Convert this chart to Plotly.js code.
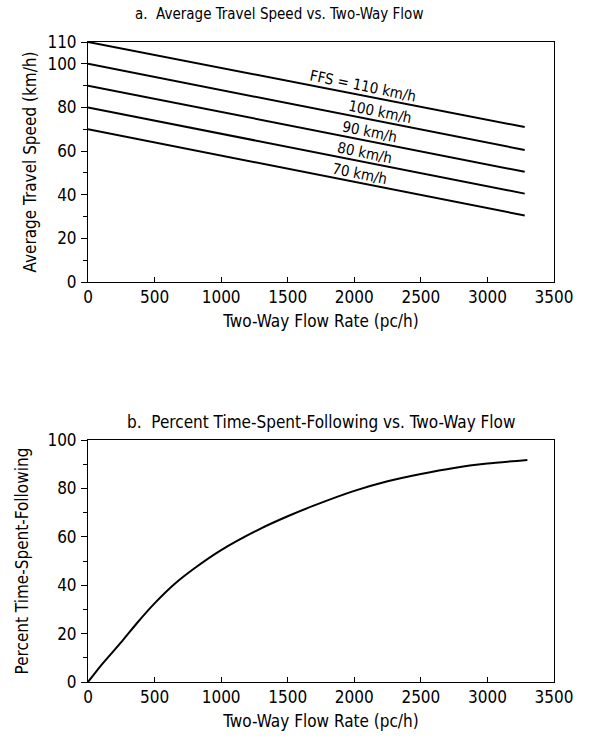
<!DOCTYPE html>
<html>
<head>
<meta charset="utf-8">
<script src="https://cdn.plot.ly/plotly-3.0.1.min.js"></script>
<style>html,body{margin:0;padding:0;background:#fff;}#chart{width:592px;height:749px;}</style>
</head>
<body>
<div id="chart"></div>
<script>
// ---- Data ----
const ffsLabels = ["FFS = 110 km/h", "100 km/h", "90 km/h", "80 km/h", "70 km/h"];
const speedFlow = [0, 3280];
const speed110 = [110, 71];
const speed100 = [100, 60.5];
const speed90 = [90, 50.5];
const speed80 = [80, 40.5];
const speed70 = [70, 30.5];

const ptsfFlow = [0, 100, 250, 370, 500, 650, 800, 1000, 1300, 1500, 1700, 2000, 2250, 2500, 2750, 3000, 3300];
const ptsfValues = [0, 7, 16.5, 24.5, 32.5, 40.5, 47, 54.5, 63.5, 68.5, 73, 79, 83, 86, 88.5, 90.3, 91.8];

const xTicks = [0, 500, 1000, 1500, 2000, 2500, 3000, 3500];
const yTicksA = [0, 20, 40, 60, 80, 100, 110];
const yTicksB = [0, 20, 40, 60, 80, 100];

const titleA = "a.  Average Travel Speed vs. Two-Way Flow";
const titleB = "b.  Percent Time-Spent-Following vs. Two-Way Flow";
const xTitle = "Two-Way Flow Rate (pc/h)";
const yTitleA = "Average Travel Speed (km/h)";
const yTitleB = "Percent Time-Spent-Following";

// ---- Styling ----
const FONT = "'Liberation Sans Narrow', 'DejaVu Sans Condensed', 'Arial Narrow', sans-serif";
const speedSeries = [speed110, speed100, speed90, speed80, speed70];
const labelX = [2050, 2180, 2105, 2065, 2030];

const traces = speedSeries.map((s, i) => ({
  x: speedFlow, y: s, xaxis: 'x', yaxis: 'y', mode: 'lines',
  line: {color: '#000', width: 2}, hoverinfo: 'skip', showlegend: false
}));
traces.push({
  x: ptsfFlow, y: ptsfValues, xaxis: 'x2', yaxis: 'y2', mode: 'lines',
  line: {color: '#000', width: 2, shape: 'spline', smoothing: 0.6}, hoverinfo: 'skip', showlegend: false
});

function interp(xs, ys, x) {
  const t = (x - xs[0]) / (xs[1] - xs[0]);
  return ys[0] + t * (ys[1] - ys[0]);
}

const annotations = ffsLabels.map((t, i) => ({
  text: t, x: labelX[i], y: interp(speedFlow, speedSeries[i], labelX[i]),
  xref: 'x', yref: 'y', showarrow: false, textangle: 11.5,
  xanchor: 'center', yanchor: 'middle', xshift: 2, yshift: 9,
  font: {family: FONT, size: 15, color: '#000'}
}));

const xAxisCommon = {
  range: [0, 3500], tickvals: xTicks, ticks: 'inside', ticklen: 5, tickwidth: 1, tickcolor: '#000',
  showline: true, linecolor: '#000', linewidth: 1, mirror: true, showgrid: false, zeroline: false,
  tickfont: {family: FONT, size: 17, color: '#000'}, fixedrange: true,
  title: {text: xTitle, font: {family: FONT, size: 17, color: '#000'}, standoff: 8}
};
const yAxisCommon = {
  ticks: 'outside', ticklen: 6, tickwidth: 1, tickcolor: '#000',
  showline: true, linecolor: '#000', linewidth: 1, mirror: true, showgrid: false, zeroline: false,
  tickfont: {family: FONT, size: 17, color: '#000'}, fixedrange: true,
  minor: {dtick: 10, tick0: 0, ticks: 'outside', ticklen: 4, tickcolor: '#000', tickwidth: 1},
  ticklabelstandoff: 1
};

const layout = {
  width: 592, height: 749,
  margin: {l: 88, r: 38, t: 42, b: 67},
  paper_bgcolor: '#fff', plot_bgcolor: '#fff',
  font: {family: FONT, color: '#000'},
  showlegend: false,
  xaxis: Object.assign({}, xAxisCommon, {anchor: 'y', domain: [0, 1]}),
  yaxis: Object.assign({}, yAxisCommon, {anchor: 'x', domain: [0.625, 1], range: [0, 110], tickvals: yTicksA,
    title: {text: yTitleA, font: {family: FONT, size: 17, color: '#000'}, standoff: 6}}),
  xaxis2: Object.assign({}, xAxisCommon, {anchor: 'y2', domain: [0, 1]}),
  yaxis2: Object.assign({}, yAxisCommon, {anchor: 'x2', domain: [0, 0.378], range: [0, 100], tickvals: yTicksB,
    title: {text: yTitleB, font: {family: FONT, size: 17, color: '#000'}, standoff: 14}}),
  annotations: annotations.concat([
    {text: titleA, xref: 'paper', yref: 'paper', x: 0.41, y: 1, yshift: 28, showarrow: false,
     xanchor: 'center', yanchor: 'middle', font: {family: FONT, size: 15, color: '#000'}},
    {text: titleB, xref: 'paper', yref: 'paper', x: 0.5, y: 0.378, yshift: 18, showarrow: false,
     xanchor: 'center', yanchor: 'middle', font: {family: FONT, size: 17, color: '#000'}}
  ])
};

Plotly.newPlot('chart', traces, layout, {displayModeBar: false, staticPlot: true});
</script>
</body>
</html>
